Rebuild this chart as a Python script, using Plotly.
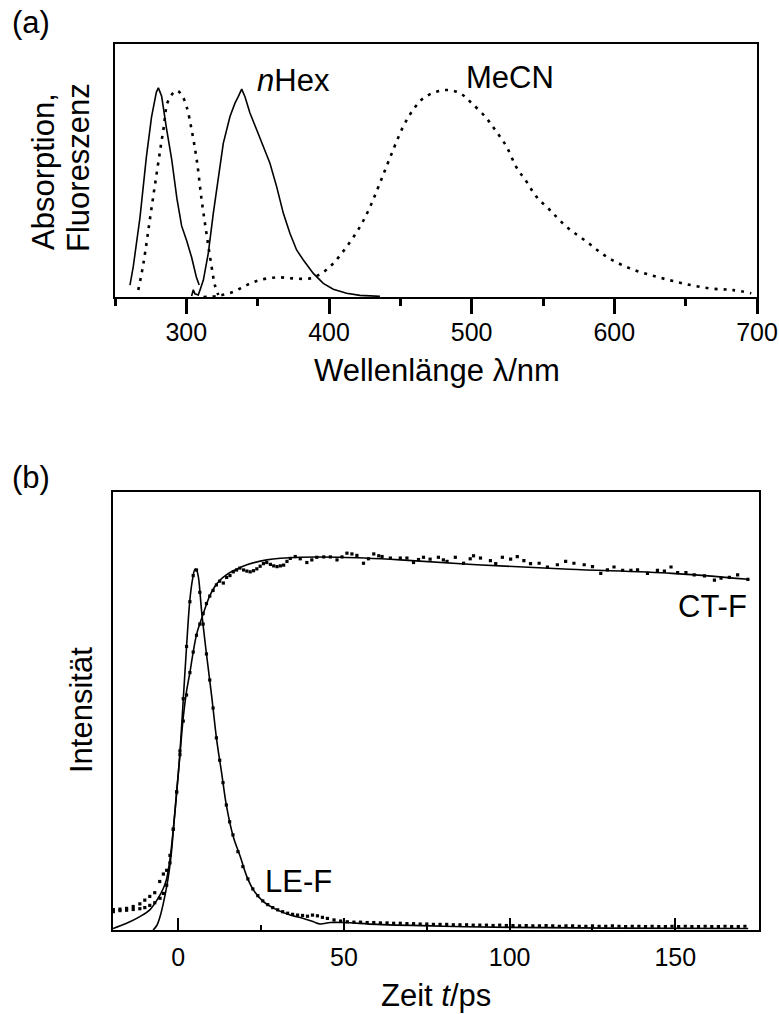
import plotly.graph_objects as go

# ---------------- Panel (a): spectra ----------------
nhex_abs_wl = [260.5, 262.8, 267.5, 272, 275.6, 279, 280.4, 282.7, 286, 289.7, 293.4, 296.7, 300.2, 303.7, 307, 309]
nhex_abs = [0.057, 0.145, 0.38, 0.67, 0.86, 0.98, 1.0, 0.96, 0.81, 0.66, 0.47, 0.34, 0.27, 0.19, 0.096, 0.057]

nhex_fl_wl = [303.7, 304.9, 306, 308.4, 311.9, 315.4, 318.9, 322.4, 325.9, 330.6, 334.1, 336.4, 338.8, 341.1,
              344.6, 349.3, 354, 358.6, 363.3, 368, 372.6, 377.3, 382, 389, 396, 403, 412.3, 421.7, 435.7]
nhex_fl = [0.005, 0.035, 0.015, 0.01, 0.08, 0.21, 0.40, 0.575, 0.735, 0.863, 0.927, 0.958, 0.994, 0.958,
           0.88, 0.80, 0.72, 0.64, 0.528, 0.40, 0.305, 0.225, 0.177, 0.113, 0.065, 0.037, 0.018, 0.008, 0.003]

mecn_abs_wl = [266.3, 269.9, 275.7, 283.9, 287.4, 293.2, 296.7, 300.2, 303.7, 307.3, 310.8, 314.2, 317.7, 320, 322.4]
mecn_abs = [0.033, 0.16, 0.43, 0.80, 0.94, 0.987, 0.967, 0.91, 0.80, 0.655, 0.46, 0.30, 0.145, 0.057, 0.01]

mecn_fl_wl = [312, 322, 333, 342.3, 351.6, 363.3, 375, 386.6, 394.8, 403, 412.3, 421.7, 428.7, 435.7, 442.7,
              452, 459, 466, 475.4, 483.6, 491.8, 498.8, 510.4, 517.4, 524.4, 531.4, 538.4, 545.4, 554.8,
              566.5, 580.5, 594.5, 610.9, 629.6, 648.2, 667, 683.3, 696]
mecn_fl = [0.0, 0.005, 0.025, 0.057, 0.081, 0.094, 0.089, 0.089, 0.113, 0.161, 0.24, 0.336, 0.43, 0.545, 0.665,
           0.815, 0.895, 0.95, 0.982, 0.99, 0.975, 0.935, 0.855, 0.79, 0.72, 0.62, 0.552, 0.48, 0.416,
           0.336, 0.265, 0.193, 0.137, 0.097, 0.065, 0.041, 0.033, 0.018]

wl_ticks = [300, 400, 500, 600, 700]
wl_minor = [250, 350, 450, 550, 650]

# ---------------- Panel (b): kinetics ----------------
ct_fit_t = [-19.7, -15.6, -11.6, -8.6, -6.1, -4.6, -3.6, -2.5, -1.5, -0.5, 0.5, 1.5, 2.5, 3.5, 4.5, 5.6,
            7.1, 8.6, 9.6, 11, 12.6, 14.5, 16.6, 20.7, 26.7, 36.8, 48.9, 67, 90, 118, 149, 172]
ct_fit = [0.004, 0.018, 0.036, 0.054, 0.085, 0.11, 0.134, 0.19, 0.27, 0.37, 0.47, 0.57, 0.64, 0.69, 0.745, 0.795,
          0.836, 0.875, 0.898, 0.92, 0.938, 0.952, 0.963, 0.979, 0.992, 0.999, 0.999, 0.992, 0.979, 0.967, 0.956, 0.94]

ct_data_t = [-19.6, -17.6, -15.6, -13.6, -11.6, -10.1, -8.6, -7.1, -5.6, -4.5,
             -3.5, -2.5, -1.5, -0.5, 0.5, 1.5, 2.5, 3.5, 4.5, 5.5,
             6.5, 7.5, 8.5, 9.5, 10.5, 11.5, 12.5, 13.6, 14.6, 15.6,
             16.6, 17.6, 18.6, 19.7, 20.7, 21.7, 22.7, 23.7, 24.7, 25.7,
             26.7, 27.8, 28.8, 29.8, 30.8, 31.8, 32.8, 33.8, 35.3, 36.8,
             38.8, 40.3, 41.8, 43.9, 45.9, 47.9, 49.4, 50.9, 52.4, 53.9,
             55.9, 57.4, 59, 60.5, 61.5, 64, 67, 69, 71, 72.5,
             74, 76, 78.5, 80, 81.1, 83.6, 86.1, 88.1, 89.1, 91.2,
             94.2, 95.8, 97.8, 100.3, 102.3, 104.3, 106.3, 108.9, 111.4, 114.4,
             116.9, 119.4, 122.5, 125, 127.5, 129.5, 131.5, 134.1, 136.6, 138.6,
             141.6, 144.6, 146.7, 148.7, 150.7, 153.2, 155.7, 158.8, 161.8, 163.8,
             166.3, 168.8, 171.9]
ct_data = [0.055, 0.056, 0.058, 0.063, 0.07, 0.08, 0.09, 0.10, 0.13, 0.15,
           0.16, 0.20, 0.27, 0.37, 0.47, 0.56, 0.63, 0.69, 0.745, 0.79,
           0.82, 0.848, 0.875, 0.895, 0.91, 0.925, 0.935, 0.93, 0.945, 0.95,
           0.96, 0.965, 0.97, 0.965, 0.962, 0.96, 0.963, 0.968, 0.975, 0.982,
           0.985, 0.98, 0.976, 0.974, 0.976, 0.978, 0.988, 0.996, 1.001, 0.995,
           0.985, 0.992, 0.999, 1.0, 1.0, 0.992, 1.0, 1.01, 1.008, 1.004,
           0.983, 0.995, 1.008, 1.003, 1.001, 0.997, 0.997, 0.997, 0.985, 0.993,
           0.999, 0.994, 0.999, 0.992, 0.988, 0.999, 0.983, 0.995, 1.003, 0.997,
           0.99, 0.982, 0.999, 0.994, 1.001, 0.99, 0.982, 0.983, 0.973, 0.979,
           0.988, 0.983, 0.979, 0.974, 0.956, 0.965, 0.973, 0.964, 0.964, 0.965,
           0.956, 0.964, 0.962, 0.973, 0.958, 0.958, 0.952, 0.949, 0.938, 0.943,
           0.945, 0.952, 0.94]

le_fit_t = [-7.6, -6.5, -5.5, -4.5, -3.5, -2.7, -2, -1.5, -0.5, 0.5, 1.5, 2.5, 3.5, 4.3, 5.05, 5.5, 6.05,
            7.1, 8.6, 10.1, 11.6, 13.1, 14.6, 16.6, 18.7, 20.7, 22.7, 25.7, 29.8, 33.8, 37.8, 40.8, 42.8,
            45.9, 49.9, 60, 80, 100, 130, 172]
le_fit = [0.0, 0.012, 0.036, 0.072, 0.116, 0.161, 0.214, 0.268, 0.366, 0.474, 0.617, 0.76, 0.885, 0.94, 0.967,
          0.965, 0.947, 0.849, 0.733, 0.625, 0.509, 0.42, 0.33, 0.25, 0.197, 0.143, 0.107, 0.076, 0.054, 0.040,
          0.031, 0.022, 0.016, 0.02, 0.02, 0.015, 0.01, 0.007, 0.005, 0.004]

le_data_t = [-19.6, -17.6, -15.6, -13.6, -11.6, -10.1, -8.6, -7.1, -5.5, -4.5,
             -3.5, -2.5, -1.5, -0.5, 0.5, 1.5, 2.5, 3.5, 4.5, 5.5,
             6.5, 7.5, 8.5, 9.5, 10.5, 11.5, 12.5, 13.5, 14.5, 15.5,
             16.5, 18, 19.5, 21, 22.5, 24, 25.5, 27, 28.5, 30,
             31.5, 33, 34.5, 36, 37.5, 39, 40.5, 42, 43.5, 45,
             47, 49, 51, 53, 55, 57, 59, 61, 63, 65,
             67, 69, 71, 73, 75, 77, 79, 81, 83, 85,
             87, 89, 91, 93, 95, 97, 99, 101, 103, 105,
             107, 109, 111, 113, 115, 117, 119, 121, 123, 125,
             127, 129, 131, 133, 135, 137, 139, 141, 143, 145,
             147, 149, 151, 153, 155, 157, 159, 161, 163, 165,
             167, 169, 171]
le_data = [0.049, 0.052, 0.053, 0.055, 0.057, 0.06, 0.066, 0.073, 0.085, 0.098,
           0.12, 0.18, 0.27, 0.37, 0.48, 0.62, 0.76, 0.88, 0.95, 0.965,
           0.905, 0.82, 0.74, 0.67, 0.595, 0.515, 0.455, 0.395, 0.335, 0.29,
           0.255, 0.21, 0.17, 0.137, 0.11, 0.092, 0.078, 0.068, 0.06, 0.054,
           0.049, 0.045, 0.042, 0.04, 0.039, 0.037, 0.04, 0.038, 0.034, 0.031,
           0.027, 0.024, 0.022, 0.021, 0.021, 0.02, 0.02, 0.019, 0.019, 0.018,
           0.018, 0.017, 0.017, 0.016, 0.016, 0.015, 0.015, 0.015, 0.014, 0.014,
           0.014, 0.013, 0.013, 0.013, 0.012, 0.013, 0.012, 0.012, 0.011, 0.012,
           0.011, 0.011, 0.012, 0.011, 0.010, 0.011, 0.011, 0.010, 0.010, 0.011,
           0.010, 0.010, 0.011, 0.010, 0.009, 0.010, 0.010, 0.009, 0.010, 0.009,
           0.009, 0.010, 0.009, 0.010, 0.009, 0.009, 0.010, 0.009, 0.009, 0.010,
           0.009, 0.009, 0.010]

t_ticks = [0, 50, 100, 150]
t_minor = [25, 75, 125]

# ---------------- figure ----------------
W, H = 779, 1014
FONT = "Liberation Sans, Arial, Helvetica, sans-serif"
LBL = 31
TCK = 25


def px(x, y):
    return x / W, 1 - y / H


def pairs(a, b):
    n = min(len(a), len(b))
    return a[:n], b[:n]


fig = go.Figure()
solid = dict(color="black", width=1.6)
dotted = dict(color="black", width=2.6, dash="3px,6px")

fig.add_trace(go.Scatter(x=nhex_abs_wl, y=nhex_abs, mode="lines", line=solid, xaxis="x", yaxis="y"))
fig.add_trace(go.Scatter(x=nhex_fl_wl, y=nhex_fl, mode="lines", line=solid, xaxis="x", yaxis="y"))
fig.add_trace(go.Scatter(x=mecn_abs_wl, y=mecn_abs, mode="lines", line=dotted, line_shape="spline", xaxis="x", yaxis="y"))
fig.add_trace(go.Scatter(x=mecn_fl_wl, y=mecn_fl, mode="lines", line=dotted, line_shape="spline", xaxis="x", yaxis="y"))

mk = dict(symbol="square", size=3.2, color="black", line=dict(width=0))
fig.add_trace(go.Scatter(x=ct_fit_t, y=ct_fit, mode="lines", line=solid, line_shape="spline", xaxis="x2", yaxis="y2"))
fig.add_trace(go.Scatter(x=le_fit_t, y=le_fit, mode="lines", line=solid, line_shape="spline", xaxis="x2", yaxis="y2"))
cx, cy = pairs(ct_data_t, ct_data)
fig.add_trace(go.Scatter(x=cx, y=cy, mode="markers", marker=mk, xaxis="x2", yaxis="y2"))
lx, ly = pairs(le_data_t, le_data)
fig.add_trace(go.Scatter(x=lx, y=ly, mode="markers", marker=mk, xaxis="x2", yaxis="y2"))

tickfont = dict(family=FONT, size=TCK, color="black")
x0a, _ = px(115, 0)
x1a, _ = px(757, 0)
_, y0a = px(0, 297)
_, y1a = px(0, 44)
x0b, _ = px(113, 0)
x1b, _ = px(758.5, 0)
_, y0b = px(0, 930)
_, y1b = px(0, 492)

fig.update_layout(
    template="none",
    width=W, height=H, autosize=False,
    margin=dict(l=0, r=0, t=0, b=0, pad=0),
    paper_bgcolor="white", plot_bgcolor="white",
    showlegend=False,
    xaxis=dict(domain=[x0a, x1a], range=[250, 700], anchor="y", automargin=False,
               tickvals=wl_ticks, ticks="outside", ticklen=15, tickwidth=2.5, tickcolor="black",
               minor=dict(tickvals=wl_minor, ticks="outside", ticklen=7, tickwidth=2.5, tickcolor="black"),
               showline=True, linecolor="black", linewidth=2, mirror=True,
               showgrid=False, zeroline=False, tickfont=tickfont, ticklabelstandoff=-3),
    yaxis=dict(domain=[y0a, y1a], range=[0, 1.21], anchor="x", automargin=False,
               showticklabels=False, ticks="", showline=True, linecolor="black", linewidth=2,
               mirror=True, showgrid=False, zeroline=False),
    xaxis2=dict(domain=[x0b, x1b], range=[-19.7, 175.1], anchor="y2", automargin=False,
                tickvals=t_ticks, ticks="inside", ticklen=12, tickwidth=1.5, tickcolor="black",
                minor=dict(tickvals=t_minor, ticks="inside", ticklen=5, tickwidth=1.5, tickcolor="black"),
                showline=True, linecolor="black", linewidth=2, mirror=True,
                showgrid=False, zeroline=False, tickfont=tickfont, ticklabelstandoff=4),
    yaxis2=dict(domain=[y0b, y1b], range=[0, 1.174], anchor="x2", automargin=False,
                showticklabels=False, ticks="", showline=True, linecolor="black", linewidth=2,
                mirror=True, showgrid=False, zeroline=False),
)


def note(text, x, y, angle=0, size=LBL):
    xp, yp = px(x, y)
    fig.add_annotation(text=text, x=xp, y=yp, xref="paper", yref="paper", showarrow=False,
                       xanchor="center", yanchor="middle", textangle=angle,
                       font=dict(family=FONT, size=size, color="black"))


note("(a)", 31, 22)
note("(b)", 31, 477)
note("Absorption,", 44, 172, -90)
note("Fluoreszenz", 79, 168, -90)
note("Wellenlänge λ/nm", 437, 370)
note("Intensität", 81, 710, -90)
note("Zeit <i>t</i>/ps", 436, 995)
note("<i>n</i>Hex", 293, 81)
note("MeCN", 510, 77)
note("CT-F", 712, 606)
note("LE-F", 298, 881)

fig.write_html("out.html")
